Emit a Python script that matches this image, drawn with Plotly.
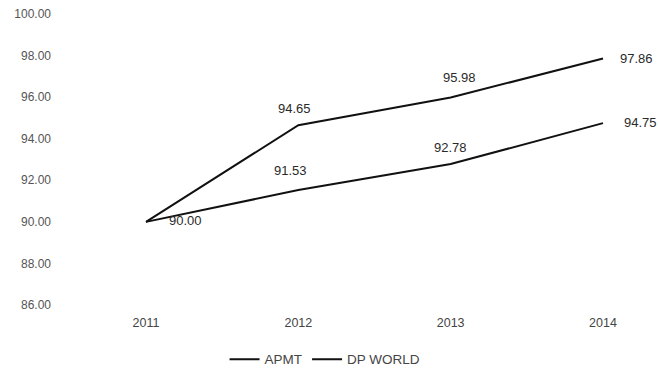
import plotly.graph_objects as go

# Yearly values for the two terminal operators
years = ["2011", "2012", "2013", "2014"]
apmt = [90.00, 94.65, 95.98, 97.86]
dp_world = [90.00, 91.53, 92.78, 94.75]
y_ticks = [86, 88, 90, 92, 94, 96, 98, 100]

x_idx = list(range(len(years)))
FONT = "Liberation Sans"

fig = go.Figure()
fig.add_trace(go.Scatter(x=x_idx, y=apmt, mode="lines", name="APMT",
                         line=dict(color="#111111", width=2)))
fig.add_trace(go.Scatter(x=x_idx, y=dp_world, mode="lines", name="DP WORLD",
                         line=dict(color="#111111", width=2)))

# Data labels: offsets in pixels per point (first APMT label shares the 2011 point)
apmt_shift = [None, (-4, 17), (9, 20), (33, 0)]
dp_shift = [(40, 1), (-8, 20), (0, 17), (37, 1)]
for series, shifts in ((apmt, apmt_shift), (dp_world, dp_shift)):
    for i, (v, s) in enumerate(zip(series, shifts)):
        if s is None:
            continue
        fig.add_annotation(x=i, y=v, text=f"{v:.2f}", showarrow=False,
                           xshift=s[0], yshift=s[1],
                           font=dict(family=FONT, size=13, color="#2a2a2a"))

fig.update_layout(
    width=658, height=369,
    margin=dict(l=52, r=0, t=14, b=64),
    paper_bgcolor="white", plot_bgcolor="white",
    font=dict(family=FONT, size=12, color="#444444"),
    showlegend=True,
    legend=dict(orientation="h", xref="container", x=0.494, xanchor="center",
                yref="container", y=0.026, yanchor="middle",
                font=dict(family=FONT, size=13.5, color="#444444")),
)
fig.update_xaxes(tickmode="array", tickvals=x_idx, ticktext=years,
                 range=[-0.617, 3.361], showgrid=False, zeroline=False,
                 showline=False, ticklabelstandoff=8,
                 tickfont=dict(family=FONT, size=12.5, color="#444444"))
fig.update_yaxes(tickmode="array", tickvals=y_ticks,
                 ticktext=[f"{t:.2f}" for t in y_ticks],
                 range=[86, 100], showgrid=False, zeroline=False, showline=False,
                 tickfont=dict(family=FONT, size=12, color="#555555"))

fig.write_html("out.html")
